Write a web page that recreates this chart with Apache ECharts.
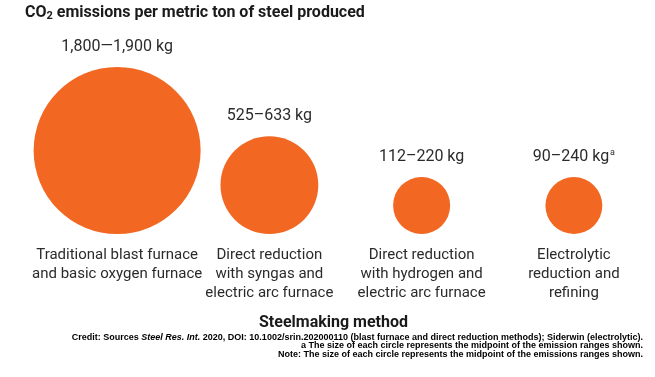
<!DOCTYPE html>
<html>
<head>
<meta charset="utf-8">
<script src="https://cdn.jsdelivr.net/npm/echarts@6/dist/echarts.min.js"></script>
<style>
html,body{margin:0;padding:0;background:#fff;}
#chart{width:655px;height:377px;}
</style>
</head>
<body>
<div id="chart"></div>
<script>
// ---- data ----
var categories = [
  'Traditional blast furnace\nand basic oxygen furnace',
  'Direct reduction\nwith syngas and\nelectric arc furnace',
  'Direct reduction\nwith hydrogen and\nelectric arc furnace',
  'Electrolytic\nreduction and\nrefining'
];
var lowKg = [1800, 525, 112, 90];
var highKg = [1900, 633, 220, 240];
var rangeLabels = ['1,800\u20141,900 kg', '525\u2013633 kg', '112\u2013220 kg', '90\u2013240 kg'];
var footnoteMarks = ['', '', '', 'a'];

// ---- chart ----
var chart = echarts.init(document.getElementById('chart'), null, {renderer: 'canvas'});
var FONT = 'Roboto, "Noto Sans", sans-serif';

function sizeOf(v) { return 3.65 * Math.sqrt(v) + 10; }

var seriesData = categories.map(function (c, i) {
  var mid = (lowKg[i] + highKg[i]) / 2;
  var s = sizeOf(mid);
  return {
    value: [c, 0, mid],
    symbolSize: s,
    symbolOffset: [0, -s / 2]
  };
});

chart.setOption({
  backgroundColor: '#ffffff',
  animation: false,
  title: {
    left: 20, top: -2,
    text: '{b|CO}{s|2}{b| emissions per metric ton of steel produced}',
    textStyle: {
      rich: {
        b: {fontFamily: FONT, fontWeight: 'bold', fontSize: 16, color: '#1a1a1a'},
        s: {fontFamily: FONT, fontWeight: 'bold', fontSize: 11, color: '#1a1a1a', verticalAlign: 'bottom', padding: [8, 0, 0, 0]}
      }
    }
  },
  grid: {left: 41, right: 5, top: 40, bottom: 143},
  xAxis: {
    type: 'category',
    data: categories,
    axisLine: {show: false},
    axisTick: {show: false},
    splitLine: {show: false},
    axisLabel: {
      interval: 0,
      margin: 12,
      fontFamily: FONT,
      fontSize: 15,
      lineHeight: 19,
      color: '#2b2b2b'
    },
    name: 'Steelmaking method',
    nameLocation: 'middle',
    nameGap: 81,
    nameTextStyle: {
      fontFamily: FONT, fontWeight: 'bold', fontSize: 16, color: '#1a1a1a',
      padding: [0, 24, 0, 0]
    }
  },
  yAxis: {
    type: 'value', min: 0, max: 1, show: false
  },
  series: [{
    type: 'scatter',
    clip: false,
    data: seriesData,
    itemStyle: {color: '#F26722', opacity: 1},
    label: {
      show: true,
      position: 'top',
      distance: 12,
      formatter: function (p) {
        var i = p.dataIndex;
        var t = '{v|' + rangeLabels[i] + '}';
        if (footnoteMarks[i]) t += '{sup|' + footnoteMarks[i] + '}';
        return t;
      },
      rich: {
        v: {fontFamily: FONT, fontSize: 16, color: '#2b2b2b'},
        sup: {fontFamily: FONT, fontSize: 9, color: '#2b2b2b', verticalAlign: 'top', padding: [0, 0, 8, 1]}
      }
    },
    emphasis: {disabled: true}
  }],
  graphic: [{
    type: 'text',
    right: 12,
    top: 333,
    style: {
      text: '{n|Credit: Sources }{i|Steel Res. Int.}{n| 2020, DOI: 10.1002/srin.202000110 (blast furnace and direct reduction methods); Siderwin (electrolytic).}\n{n|a The size of each circle represents the midpoint of the emission ranges shown.}\n{n|Note: The size of each circle represents the midpoint of the emissions ranges shown.}',
      textAlign: 'right',
      rich: {
        n: {fontFamily: 'Arial, "Liberation Sans", sans-serif', fontWeight: 'bold', fontSize: 9, lineHeight: 8.5, color: '#8a817b', align: 'right'},
        i: {fontFamily: 'Arial, "Liberation Sans", sans-serif', fontWeight: 'bold', fontStyle: 'italic', fontSize: 9, lineHeight: 8.5, color: '#8a817b', align: 'right'}
      }
    }
  }]
});
</script>
</body>
</html>
